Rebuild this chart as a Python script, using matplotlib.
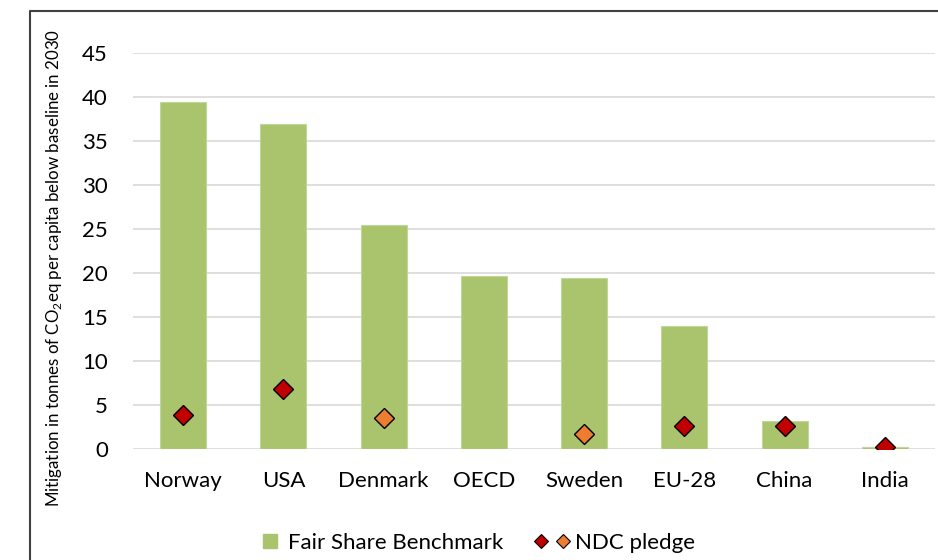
import matplotlib.pyplot as plt
from matplotlib.lines import Line2D
from matplotlib.patches import Patch, Rectangle
from matplotlib.legend_handler import HandlerTuple, HandlerPatch

categories = ['Norway', 'USA', 'Denmark', 'OECD', 'Sweden', 'EU-28', 'China', 'India']
fair_share = [39.4, 36.9, 25.5, 19.7, 19.4, 14.0, 3.2, 0.2]
ndc_pledge = [3.9, 6.8, 3.5, None, 1.7, 2.6, 2.6, 0.2]
ndc_kind = ['red', 'red', 'orange', None, 'orange', 'red', 'red', 'red']

green = '#A9C46C'
red = '#C00000'
orange = '#ED7D31'

plt.rcParams['font.family'] = ['Lato', 'DejaVu Sans']
plt.rcParams['mathtext.fontset'] = 'custom'
plt.rcParams['mathtext.rm'] = 'Lato'

fig = plt.figure(figsize=(9.38, 5.6), dpi=100)
ax = fig.add_axes([133 / 938, 1 - 449 / 560, 802 / 938, 396 / 560])

x = range(len(categories))
ax.bar(x, fair_share, width=0.46, color=green, edgecolor='#BFD79A', linewidth=0.8, zorder=2)

for i, (v, k) in enumerate(zip(ndc_pledge, ndc_kind)):
    if v is None:
        continue
    c = red if k == 'red' else orange
    ax.plot(i, v, marker='D', markersize=10.5, color=c, markeredgecolor='black',
            markeredgewidth=1.0, linestyle='none', zorder=3)

ax.set_xlim(-0.5, len(categories) - 0.5)
ax.set_ylim(0, 45)
ax.set_yticks(range(0, 50, 5))
ax.set_xticks(list(x))
ax.set_xticklabels(categories)
ax.tick_params(axis='both', length=0, labelsize=16, colors='#000000')
ax.tick_params(axis='x', pad=16)
ax.tick_params(axis='y', pad=18)
ax.grid(axis='y', color='#D9D9D9', linewidth=1.2, zorder=0)
ax.set_axisbelow(True)
for s in ax.spines.values():
    s.set_visible(False)

ax.set_ylabel('Mitigation in tonnes of CO$_2$eq per capita below baseline in 2030',
              fontsize=12.2)
ax.yaxis.set_label_coords((64 - 133) / 802, (449 - 268) / 396)


# legend: small square for the bars, two diamonds for the pledges
def square_patch(legend, orig_handle, xdescent, ydescent, width, height, fontsize):
    side = 10
    return Rectangle((width - side - 4 - xdescent, -ydescent + (height - side) / 2),
                     side, side)


h_bar = Patch(facecolor=green, edgecolor=green)
h_red = Line2D([], [], marker='D', linestyle='none', markersize=7, color=red,
               markeredgecolor='black', markeredgewidth=0.8)
h_or = Line2D([], [], marker='D', linestyle='none', markersize=7, color=orange,
              markeredgecolor='black', markeredgewidth=0.8)
fig.legend([h_bar, (h_red, h_or)], ['Fair Share Benchmark', 'NDC pledge'],
           handler_map={tuple: HandlerTuple(ndivide=None, pad=0.3),
                        Patch: HandlerPatch(patch_func=square_patch)},
           loc='center', bbox_to_anchor=(471 / 938, 1 - 543 / 560), ncol=2,
           frameon=False, fontsize=16, handlelength=1.6, handletextpad=0.25,
           columnspacing=1.4)

# outer frame
fig.add_artist(Line2D([30 / 938, 30 / 938, 1.0], [0, 1 - 11 / 560, 1 - 11 / 560],
                      transform=fig.transFigure, color='#404040', linewidth=1.5))

fig.savefig('out.png', dpi=100)
